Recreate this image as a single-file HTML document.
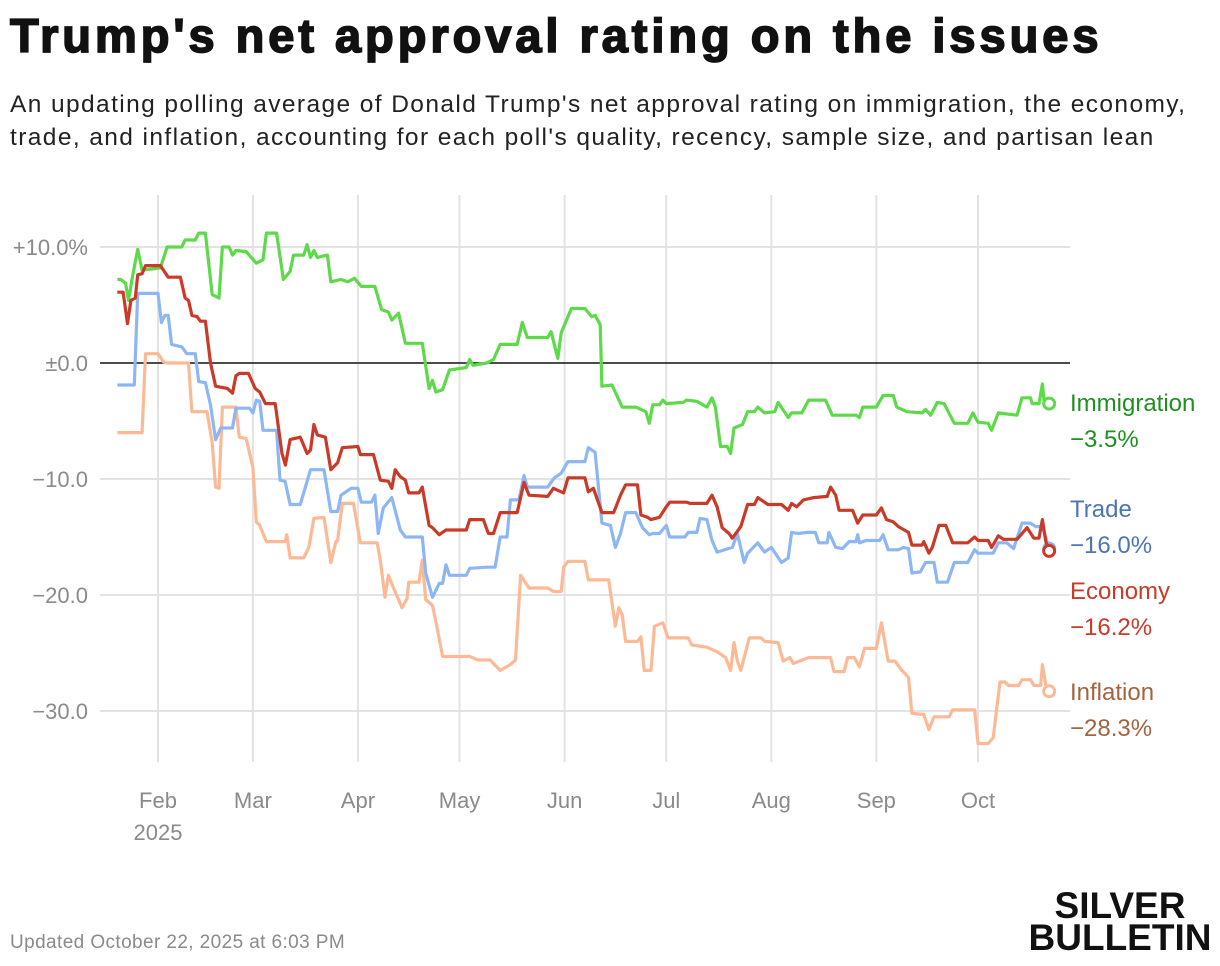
<!DOCTYPE html>
<html><head><meta charset="utf-8">
<style>
body{margin:0;background:#fff;width:1220px;height:966px;overflow:hidden;font-family:"Liberation Sans",sans-serif}
#title{position:absolute;left:10px;top:8px;font-size:47px;font-weight:900;color:#111;letter-spacing:3.95px;margin:0;-webkit-text-stroke:1.7px #111;white-space:nowrap}
#sub{position:absolute;left:10px;top:88px;font-size:24.5px;line-height:33px;color:#222;width:1215px;letter-spacing:1.4px;white-space:nowrap}
#foot{position:absolute;left:10px;top:932px;font-size:19px;color:#8a8a8a;letter-spacing:0.4px}
#logo{position:absolute;left:1028px;top:890px;width:184px;text-align:center;font-size:37px;line-height:32px;font-weight:900;color:#111;letter-spacing:0px}
svg{position:absolute;left:0;top:0}
.tick{font-family:"Liberation Sans",sans-serif;font-size:22px;fill:#8a8a8a}
.lab{font-family:"Liberation Sans",sans-serif;font-size:24px}
</style></head><body>
<h1 id="title">Trump's net approval rating on the issues</h1>
<div id="sub">An updating polling average of Donald Trump's net approval rating on immigration, the economy,<br>trade, and inflation, accounting for each poll's quality, recency, sample size, and partisan lean</div>
<svg id="chart" width="1220" height="966"></svg>
<div id="foot">Updated October 22, 2025 at 6:03 PM</div>
<div id="logo">SILVER<br>BULLETIN</div>
<script>
const yTicks=[10,0,-10,-20,-30];
const yTickLabels=["+10.0%","±0.0","−10.0","−20.0","−30.0"];
const monthDays=[12,40,71,101,132,162,193,224,254];
const monthLabels=["Feb","Mar","Apr","May","Jun","Jul","Aug","Sep","Oct"];
const seriesNames=["Immigration","Trade","Economy","Inflation"];
const finalValues=["−3.5%","−16.0%","−16.2%","−28.3%"];

const immDays=[0,1,2.4,3.3,4.4,6,7.3,12.7,14.7,19,20,23,24,26,28,30,31,33,34,35,38,41,43,44,47,49,51,52,55,56,57,58,59,62,63,66,68,70,72,76,78,80,81,83,85,90,92,93,94,96,98,103,104,105,109,111,113,118,119.5,121,127,128,130,131,134,138,140,141,142.5,143,146,149,153,156,157,158,160,161,162,167,168,171,174,175.5,176.5,178,180,181,182,184.5,186,188,189,191,194,195,198,199,202,204,209,211,218,219,220,224,226,229,230,233,237.5,238.5,240,242,244,247,251,252.5,254,257,258,260,265.5,267,269.5,270,272,273,273.5,275];
const immVals=[7.2,7.2,6.9,5.4,7.3,9.8,8,8.2,10,10,10.6,10.6,11.2,11.2,5.9,5.6,10,10,9.3,9.7,9.6,8.6,8.9,11.2,11.2,7.2,7.9,9.3,9.3,10.2,9.1,9.7,9.1,9.3,7,7.2,7,7.3,6.6,6.6,4.6,4.4,3.7,4.3,1.7,1.7,-2.2,-1.5,-2.5,-2.3,-0.6,-0.4,0.3,-0.2,0,0.3,1.6,1.6,3.5,2.2,2.2,2.7,0.4,2.6,4.7,4.7,4,4.1,3.3,-2,-1.9,-3.8,-3.8,-4.2,-5.2,-3.6,-3.6,-3.2,-3.5,-3.4,-3.2,-3.3,-3.8,-3,-3.8,-7.2,-7.2,-7.8,-5.6,-5.3,-4.2,-4.2,-3.8,-4.3,-4.2,-3.4,-4.7,-4.3,-4.3,-3.2,-3.2,-4.5,-4.5,-4.7,-3.8,-3.8,-2.8,-2.8,-3.8,-4.2,-4.3,-4,-4.5,-3.4,-3.5,-5.2,-5.2,-4.3,-5.1,-5.2,-5.8,-4.3,-4.5,-3,-3,-3.5,-3.5,-1.8,-3.3,-3.5];

const tradeDays=[0,1,5,6,12,13,14,15,16,19,20.5,23,24,26,27.5,29,30.5,34,35,39,40,41,42,43,47,48,49.5,51,54,57,61,63,65,66,69,71,72,75,76,77,78.5,81,83.5,85,90,91,93,95,96,97,98,103,104,109,111.5,113,115,116,118.5,120,121,127,129,131,133,138,139,141,143,145.5,147,148.5,150,153,155,157,158,160,162,163,167.5,168.5,171,172,174,175.5,177,181.5,183,185,186,189,191,193,196,198,199,201,203.5,206,207,209.5,210,212,214,216,218,218.5,219,221,225,226,227.5,230.5,232,233.5,234.5,237,238.5,241,242,245,247,251,253,254,258.5,260,262.5,264.5,267,269.5,271,273,275];
const tradeVals=[-1.9,-1.9,-1.9,6,6,3.5,4.1,4.1,1.6,1.4,0.8,0.8,-1.6,-1.7,-3.6,-6.6,-5.6,-5.6,-3.9,-3.9,-4.3,-3.2,-3.3,-5.8,-5.8,-10.1,-10.2,-12.2,-12.2,-9.2,-9.2,-12.8,-12.8,-11.4,-10.8,-10.8,-12,-12,-11.4,-14.7,-12.5,-11.6,-14.4,-15,-15,-18.1,-20.2,-19,-19,-17.4,-18.3,-18.3,-17.7,-17.6,-17.6,-15,-15,-11.8,-11.8,-9.7,-10.7,-10.7,-9.9,-9.5,-8.5,-8.5,-7.3,-7.7,-13.8,-14,-15.9,-14.7,-12.9,-12.9,-14.2,-14.8,-14.7,-14.7,-14,-15,-15,-14.6,-14.6,-13.4,-13.5,-15.3,-16.3,-15.9,-14.7,-17.2,-16.4,-15.5,-16.3,-15.9,-17.2,-16.8,-14.6,-14.7,-14.6,-14.6,-15.5,-15.5,-14.6,-15.9,-16,-15.4,-15.4,-14.8,-15.5,-15.3,-15.3,-14.8,-16.1,-16.1,-15.9,-16,-18.1,-18,-17.2,-17.2,-18.9,-18.9,-17.2,-17.2,-16.1,-16.4,-16.4,-15.5,-15.5,-16,-13.8,-13.8,-14.1,-14.1,-16];

const econDays=[0,1.7,3,4,5.3,6,7.3,8.3,12.7,15,18.6,20,21,22,23.5,24.5,26,27.5,29,32.5,34,35,36,38.7,40.7,42,43.7,46.6,48.6,49.6,51,54,56,57,58,59,61.4,63,65,66.4,71,71.7,75.6,77.6,80,81,82,83.5,85,86,89,90,92,93,95,97,103,104,108,109.5,111,113,118,120,121.5,127,128.7,131.7,133,138,139,140.5,143,146.5,148.5,150,153.5,154.5,156.5,157.5,160,162,163,168,169,174,175.5,177,178.5,180.5,181.5,184,186,188,189,192,196,198,199,200.5,202.5,205.5,209.5,210.5,212,213,217,218.5,220,224,225.5,227,229,230.5,233.5,234.5,237.5,238,239.5,240.5,242.5,244.5,246.5,251,253,254,257,258,260,261.5,265.5,268.5,270.5,272,273,274,275];
const econVals=[6.1,6.1,3.4,5.4,5.6,7.6,7.7,8.4,8.4,7.4,7.4,5.6,5.4,4.1,4,3.6,3.6,0,-2,-2.2,-2.6,-1.1,-0.9,-0.9,-2.2,-2.5,-3.5,-3.5,-7.8,-8.8,-6.6,-6.4,-7.8,-7.5,-5.3,-6.2,-6.4,-9.2,-8.6,-7.3,-7.2,-7.9,-7.9,-10.1,-10.2,-10.8,-9.2,-9.8,-10.1,-11.2,-11.2,-10.7,-14,-14.2,-14.8,-14.4,-14.4,-13.5,-13.5,-14.7,-14.7,-12.9,-12.9,-10.3,-11.4,-11.5,-10.8,-11.2,-9.9,-9.9,-11.1,-10.8,-12.9,-12.9,-11.4,-10.5,-10.5,-13.1,-13.3,-13.5,-13.3,-12.4,-12,-12,-12.1,-12.1,-11.4,-12.4,-14.2,-14.7,-15.1,-14.1,-12.2,-12.2,-11.6,-12.2,-12.2,-12.7,-12.1,-12.4,-11.8,-11.6,-11.5,-10.7,-11.4,-12.7,-12.7,-13.8,-13.1,-13.1,-12.5,-13.5,-13.7,-14.1,-14.6,-15.7,-15.7,-15.4,-16.4,-15.9,-14,-14,-15.5,-15.5,-15,-15.3,-15.3,-15.9,-14.9,-15.2,-15.2,-14.2,-15.1,-15.1,-13.5,-15.4,-16.2];

const inflDays=[0,1,7.3,8.3,12,13.6,14.7,21,22,26.5,28,29,30,31,35,36,38,40,41,42,44,49.5,50,51,55,56.5,58,61,63,64.5,65,66.4,69.7,71.7,76.7,77.6,79,80,81.5,84,85.5,86,89,90,91,93,94.5,96,104,106.5,110,113,116,117.5,119,121.5,127,128.7,131,131.7,133,138,139,145,147,148,149,150,153.5,154.5,155.5,157.5,158.5,161,162.5,168.5,169.5,174,177,179.5,181,182,183,184,186.5,190,191,195,196.5,198.5,199.5,204,210.5,211.5,214.5,215.5,217.5,219,220.5,224,225.5,227.5,229.5,231.5,233.5,234.5,238,239.5,241,245.5,246.5,253,254,257,258.5,260.5,262,263,266,267,269.5,270.5,272.5,273,274,275];
const inflVals=[-6,-6,-6,0.8,0.8,0.1,0,0,-4.2,-4.2,-6.9,-10.7,-10.8,-3.8,-3.8,-6.4,-6.5,-9,-13.7,-14,-15.4,-15.4,-14.8,-16.8,-16.8,-15.9,-13.4,-13.3,-17.2,-15.4,-15.3,-12.1,-12.1,-15.5,-15.5,-17,-20.2,-18.3,-19.4,-21.1,-20.3,-18.9,-18.9,-17,-20.4,-20.9,-23,-25.3,-25.3,-25.6,-25.6,-26.5,-26,-25.6,-18.3,-19.4,-19.4,-19.7,-19.7,-17.6,-17.1,-17.1,-18.7,-18.7,-22.7,-21.1,-21.7,-24,-24,-23.6,-26.5,-26.5,-22.7,-22.4,-23.7,-23.7,-24.3,-24.5,-24.9,-25.4,-26.5,-24.1,-25.7,-26.5,-23.7,-23.7,-24,-24.1,-25.7,-25.4,-25.9,-25.4,-25.4,-26.6,-26.6,-25.4,-25.4,-26.2,-24.6,-24.6,-22.4,-25.7,-25.7,-26.5,-27.1,-30.2,-30.3,-31.6,-30.5,-30.5,-29.9,-29.9,-32.8,-32.8,-32.3,-27.5,-27.5,-27.8,-27.8,-27.3,-27.3,-27.8,-27.8,-26,-27.8,-28.3];

const NS="http://www.w3.org/2000/svg";
const svg=document.getElementById('chart');
const X0=158,XD=(978-158)/(254-12);
function xs(d){return X0+(d-12)*XD;}
function ys(v){return 363-v*11.6;}
function mk(tag,attrs,parent){const e=document.createElementNS(NS,tag);for(const k in attrs)e.setAttribute(k,attrs[k]);(parent||svg).appendChild(e);return e;}

monthDays.forEach((d,i)=>{
  const l=mk('line',{x1:xs(d),x2:xs(d),y1:195,y2:762,stroke:'#e3e3e3','stroke-width':2});
  
  
  const t=mk('text',{x:xs(d),y:808,'text-anchor':'middle',class:'tick'});
  t.textContent=monthLabels[i];
  
  
});
const yr=mk('text',{x:xs(12),y:840,'text-anchor':'middle',class:'tick'});
yr.textContent="2025";


yTicks.forEach((v,i)=>{
  const l=mk('line',{x1:100,x2:1070,y1:ys(v),y2:ys(v),stroke:v===0?'#111':'#e3e3e3','stroke-width':v===0?1.6:2});
  
  
  const t=mk('text',{x:88,y:ys(v)+8,'text-anchor':'end',class:'tick'});
  t.textContent=yTickLabels[i];
  
  
});
const series=[
 {days:inflDays,vals:inflVals,color:'#fcb995',lab:'#a3643f',name:'inflation',idx:3,ly:700},
 {days:tradeDays,vals:tradeVals,color:'#8db6f4',lab:'#4d74b5',name:'trade',idx:1,ly:517},
 {days:immDays,vals:immVals,color:'#5dd94a',lab:'#1f8f1f',name:'immigration',idx:0,ly:411},
 {days:econDays,vals:econVals,color:'#c93a28',lab:'#c93a28',name:'economy',idx:2,ly:599},
];
series.forEach(s=>{
  const pts=s.days.map((d,i)=>xs(d).toFixed(1)+','+ys(s.vals[i]).toFixed(1)).join(' ');
  const p=mk('polyline',{points:pts,fill:'none',stroke:s.color,'stroke-width':3.2,'stroke-linejoin':'round'});
  
  
  const n=s.days.length-1;
  const c=mk('circle',{cx:xs(s.days[n]),cy:ys(s.vals[n]),r:5.5,fill:'#fff',stroke:s.color,'stroke-width':3});
  
  
  const t1=mk('text',{x:1070,y:s.ly,fill:s.lab,class:'lab'});
  t1.textContent=seriesNames[s.idx];
  
  
  const t2=mk('text',{x:1070,y:s.ly+36,fill:s.lab,class:'lab'});
  t2.textContent=finalValues[s.idx];
  
  
});
</script>
</body></html>
